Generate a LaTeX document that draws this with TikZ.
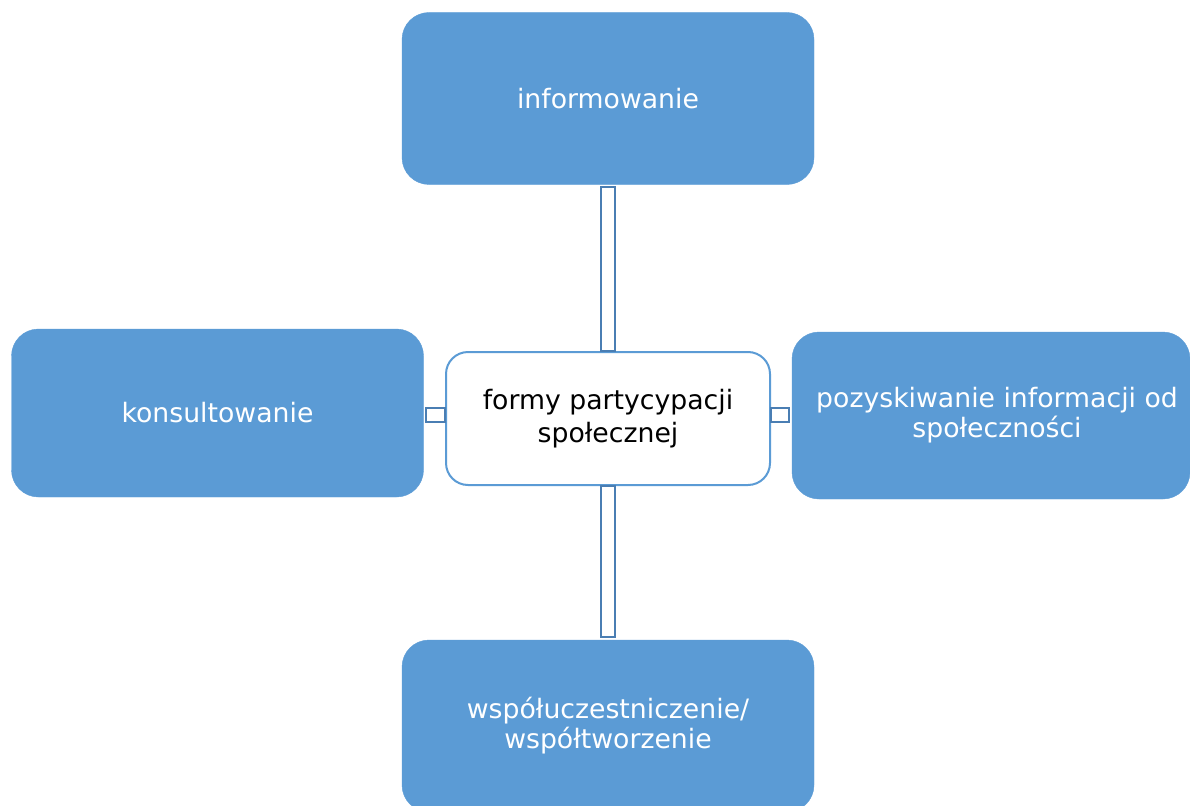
\documentclass[tikz,border=0pt]{standalone}
\usepackage{fontspec}
\setmainfont{DejaVu Sans}
\usetikzlibrary{calc}
\definecolor{boxblue}{HTML}{5B9BD5}
\definecolor{connblue}{HTML}{4A7EB3}
\begin{document}
\begin{tikzpicture}[x=1pt,y=-1pt,
  bluebox/.style={draw=boxblue, fill=boxblue, rounded corners=27pt, text=white,
    align=center, font=\fontsize{26.7}{30}\selectfont, inner sep=0pt,
    minimum width=412pt, minimum height=172pt},
  centerbox/.style={draw=boxblue, line width=2pt, fill=white, rounded corners=22pt,
    text=black, align=center, font=\fontsize{26.7}{33}\selectfont, inner sep=0pt,
    minimum width=324pt, minimum height=133pt},
  conn/.style={draw=connblue, line width=2pt, fill=white}]
\useasboundingbox (0,0) rectangle (1190,805);
\clip (0,0) rectangle (1190,805);
\node[bluebox] (top) at (608,98.5) {informowanie};
\node[bluebox, minimum height=168pt] (left) at (217.5,413) {konsultowanie};
\node[bluebox, minimum width=398pt, minimum height=167pt] (right) at (991,415.5) {\hspace*{12pt}pozyskiwanie informacji od\\\hspace*{12pt}społeczności};
\node[bluebox] (bottom) at (608,726) {współuczestniczenie/\\współtworzenie};
\node[centerbox] (center) at (608,418.5) {formy partycypacji\\społecznej};
\draw[conn] ($(top.south)+(-7,2)$) rectangle ($(center.north)+(7,0)$);
\draw[conn] ($(center.south)+(-7,0)$) rectangle ($(bottom.north)+(7,-3)$);
\draw[conn] ($(left.east |- center.west)+(2,-10.5)$) rectangle ($(center.west)+(0,3.5)$);
\draw[conn] ($(center.east)+(0,-10.5)$) rectangle ($(right.west |- center.east)+(-3,3.5)$);
\end{tikzpicture}
\end{document}
